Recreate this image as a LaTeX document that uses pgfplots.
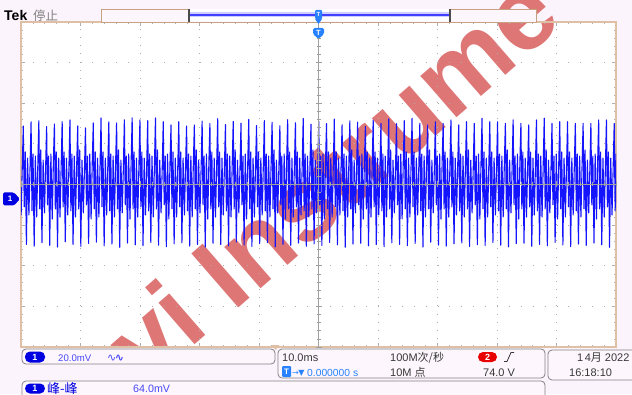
\documentclass[border=0pt]{standalone}
\usepackage{pgfplots}
\pgfplotsset{compat=1.18}
\usepackage{fontspec}
\setmainfont{Liberation Sans}
\newfontfamily\cjk{Noto Sans CJK SC}
\newfontfamily\dejavu{DejaVu Sans}
\definecolor{bgpink}{RGB}{252,244,252}
\definecolor{boxfill}{RGB}{253,247,253}
\definecolor{bordertan}{RGB}{224,192,165}
\definecolor{barbrown}{RGB}{200,160,130}
\definecolor{wm}{RGB}{222,118,118}
\definecolor{wave}{RGB}{20,20,255}
\definecolor{chblue}{RGB}{0,0,225}
\definecolor{txtblue}{RGB}{70,70,250}
\definecolor{tblue}{RGB}{40,130,255}
\definecolor{boxgray}{RGB}{130,130,130}
\definecolor{dgray}{RGB}{55,55,55}
\definecolor{gridgray}{RGB}{175,175,175}
\definecolor{winfill}{RGB}{205,205,255}
\definecolor{badgered}{RGB}{232,0,0}
\begin{document}
\begin{tikzpicture}
\useasboundingbox (0,0) rectangle (632pt,394pt);
\clip (0,0) rectangle (632pt,394pt);
\fill[bgpink] (0,0) rectangle (632pt,394pt);
\begin{scope}[x=1pt,y=-1pt,shift={(0,394pt)}]
  \fill[white] (21,22) rectangle (616,347);
  \begin{scope}
    \clip (0,0) rectangle (632,347);
    \node[rotate=41, anchor=base west, inner sep=0, text=wm, font=\fontsize{104}{104}\selectfont\bfseries] at (146,388) {vi Instrume};
  \end{scope}
\end{scope}

% graticule
\begin{axis}[at={(21pt,47pt)}, anchor=south west, scale only axis, width=595pt, height=325pt,
  xmin=-5, xmax=5, ymin=-4, ymax=4,
  xtick={-5,...,5}, ytick={-4,...,4}, xticklabel=\empty, yticklabel=\empty,
  minor x tick num=4, minor y tick num=4,
  tick align=inside, major tick length=4pt, minor tick length=2.5pt,
  tick style={gridgray, line width=0.6pt},
  xmajorgrids, ymajorgrids,
  x grid style={gridgray, line width=1pt, dash pattern=on 1pt off 7.125pt},
  y grid style={gridgray, line width=1pt, dash pattern=on 1pt off 10.9pt},
  axis line style={bordertan, line width=1.3pt}]
\end{axis}

% waveform
\begin{axis}[at={(21pt,47pt)}, anchor=south west, scale only axis, width=595pt, height=325pt,
  xmin=-0.296, xmax=76.23, ymin=-80, ymax=80, axis lines=none, ticks=none, clip=true]
\addplot[wave, line width=1.1pt, line join=round] coordinates {
(-0.45,13)(-0.28,-15)(-0.13,9)
(0,28.8)(0.12,-11)(0.25,16)(0.4,-29.5)(0.55,13)(0.72,-15)(0.87,9)
(1,30.9)(1.12,-13)(1.25,15)(1.4,-30.4)(1.55,14)(1.72,-16)(1.87,10)
(2,31.4)(2.12,-12)(2.25,17)(2.4,-28.6)(2.55,12)(2.72,-14)(2.87,8)
(3,28.5)(3.12,-10)(3.25,14)(3.4,-29.9)(3.55,15)(3.72,-17)(3.87,11)
(4,29.8)(4.12,-12)(4.25,16)(4.4,-30.8)(4.55,13)(4.72,-16)(4.87,9)
(5,30.9)(5.12,-11)(5.25,16)(5.4,-28.2)(5.55,13)(5.72,-15)(5.87,9)
(6,31.8)(6.12,-13)(6.25,15)(6.4,-29.6)(6.55,14)(6.72,-16)(6.87,10)
(7,28.8)(7.12,-12)(7.25,17)(7.4,-30.5)(7.55,12)(7.72,-14)(7.87,8)
(8,27.8)(8.12,-10)(8.25,14)(8.4,-29.0)(8.55,15)(8.72,-17)(8.87,11)
(9,30.3)(9.12,-12)(9.25,16)(9.4,-28.4)(9.55,13)(9.72,-16)(9.87,9)
(10,32.8)(10.12,-11)(10.25,16)(10.4,-30.2)(10.55,13)(10.72,-15)(10.87,9)
(11,30.9)(11.12,-13)(11.25,15)(11.4,-29.3)(11.55,14)(11.72,-16)(11.87,10)
(12,30.3)(12.12,-12)(12.25,17)(12.4,-30.9)(12.55,12)(12.72,-14)(12.87,8)
(13,31.8)(13.12,-10)(13.25,14)(13.4,-28.8)(13.55,15)(13.72,-17)(13.87,11)
(14,32.8)(14.12,-12)(14.25,16)(14.4,-29.7)(14.55,13)(14.72,-16)(14.87,9)
(15,31.8)(15.12,-11)(15.25,16)(15.4,-30.1)(15.55,13)(15.72,-15)(15.87,9)
(16,31.4)(16.12,-13)(16.25,15)(16.4,-28.5)(16.55,14)(16.72,-16)(16.87,10)
(17,32.8)(17.12,-12)(17.25,17)(17.4,-29.9)(17.55,12)(17.72,-14)(17.87,8)
(18,30.9)(18.12,-10)(18.25,14)(18.4,-30.6)(18.55,15)(18.72,-17)(18.87,11)
(19,29.3)(19.12,-12)(19.25,16)(19.4,-29.2)(19.55,13)(19.72,-16)(19.87,9)
(20,30.9)(20.12,-11)(20.25,16)(20.4,-28.7)(20.55,13)(20.72,-15)(20.87,9)
(21,28.8)(21.12,-13)(21.25,15)(21.4,-30.3)(21.55,14)(21.72,-16)(21.87,10)
(22,29.3)(22.12,-12)(22.25,17)(22.4,-29.5)(22.55,12)(22.72,-14)(22.87,8)
(23,31.2)(23.12,-10)(23.25,14)(23.4,-30.8)(23.55,15)(23.72,-17)(23.87,11)
(24,30.0)(24.12,-12)(24.25,16)(24.4,-28.9)(24.55,13)(24.72,-16)(24.87,9)
(25,32.4)(25.12,-11)(25.25,16)(25.4,-29.6)(25.55,13)(25.72,-15)(25.87,9)
(26,29.5)(26.12,-13)(26.25,15)(26.4,-30.2)(26.55,14)(26.72,-16)(26.87,10)
(27,31.0)(27.12,-12)(27.25,17)(27.4,-28.3)(27.55,12)(27.72,-14)(27.87,8)
(28,30.2)(28.12,-10)(28.25,14)(28.4,-29.8)(28.55,15)(28.72,-17)(28.87,11)
(29,32.0)(29.12,-12)(29.25,16)(29.4,-30.5)(29.55,13)(29.72,-16)(29.87,9)
(30,29.0)(30.12,-11)(30.25,16)(30.4,-29.1)(30.55,13)(30.72,-15)(30.87,9)
(31,31.5)(31.12,-13)(31.25,15)(31.4,-28.6)(31.55,14)(31.72,-16)(31.87,10)
(32,30.6)(32.12,-12)(32.25,17)(32.4,-30.7)(32.55,12)(32.72,-14)(32.87,8)
(33,28.9)(33.12,-10)(33.25,14)(33.4,-29.4)(33.55,15)(33.72,-17)(33.87,11)
(34,31.9)(34.12,-12)(34.25,16)(34.4,-29.9)(34.55,13)(34.72,-16)(34.87,9)
(35,30.4)(35.12,-11)(35.25,16)(35.4,-28.8)(35.55,13)(35.72,-15)(35.87,9)
(36,32.5)(36.12,-13)(36.25,15)(36.4,-30.4)(36.55,14)(36.72,-16)(36.87,10)
(37,29.7)(37.12,-12)(37.25,17)(37.4,-29.2)(37.55,12)(37.72,-14)(37.87,8)
(38,31.1)(38.12,-10)(38.25,14)(38.4,-30.0)(38.55,15)(38.72,-17)(38.87,11)
(39,30.0)(39.12,-12)(39.25,16)(39.4,-28.5)(39.55,13)(39.72,-16)(39.87,9)
(40,32.2)(40.12,-11)(40.25,16)(40.4,-29.7)(40.55,13)(40.72,-15)(40.87,9)
(41,29.4)(41.12,-13)(41.25,15)(41.4,-30.9)(41.55,14)(41.72,-16)(41.87,10)
(42,31.3)(42.12,-12)(42.25,17)(42.4,-29.3)(42.55,12)(42.72,-14)(42.87,8)
(43,30.7)(43.12,-10)(43.25,14)(43.4,-28.9)(43.55,15)(43.72,-17)(43.87,11)
(44,28.6)(44.12,-12)(44.25,16)(44.4,-30.2)(44.55,13)(44.72,-16)(44.87,9)
(45,31.7)(45.12,-11)(45.25,16)(45.4,-29.6)(45.55,13)(45.72,-15)(45.87,9)
(46,30.1)(46.12,-13)(46.25,15)(46.4,-30.6)(46.55,14)(46.72,-16)(46.87,10)
(47,32.3)(47.12,-12)(47.25,17)(47.4,-28.7)(47.55,12)(47.72,-14)(47.87,8)
(48,29.9)(48.12,-10)(48.25,14)(48.4,-29.5)(48.55,15)(48.72,-17)(48.87,11)
(49,31.4)(49.12,-12)(49.25,16)(49.4,-30.1)(49.55,13)(49.72,-16)(49.87,9)
(50,32.6)(50.12,-11)(50.25,16)(50.4,-29.0)(50.55,13)(50.72,-15)(50.87,9)
(51,30.1)(51.12,-13)(51.25,15)(51.4,-30.8)(51.55,14)(51.72,-16)(51.87,10)
(52,29.3)(52.12,-12)(52.25,17)(52.4,-28.4)(52.55,12)(52.72,-14)(52.87,8)
(53,30.9)(53.12,-10)(53.25,14)(53.4,-29.8)(53.55,15)(53.72,-17)(53.87,11)
(54,30.1)(54.12,-12)(54.25,16)(54.4,-30.3)(54.55,13)(54.72,-16)(54.87,9)
(55,31.8)(55.12,-11)(55.25,16)(55.4,-29.2)(55.55,13)(55.72,-15)(55.87,9)
(56,29.3)(56.12,-13)(56.25,15)(56.4,-28.8)(56.55,14)(56.72,-16)(56.87,10)
(57,30.9)(57.12,-12)(57.25,17)(57.4,-30.5)(57.55,12)(57.72,-14)(57.87,8)
(58,30.1)(58.12,-10)(58.25,14)(58.4,-29.6)(58.55,15)(58.72,-17)(58.87,11)
(59,32.6)(59.12,-12)(59.25,16)(59.4,-30.0)(59.55,13)(59.72,-16)(59.87,9)
(60,30.9)(60.12,-11)(60.25,16)(60.4,-28.6)(60.55,13)(60.72,-15)(60.87,9)
(61,30.9)(61.12,-13)(61.25,15)(61.4,-29.9)(61.55,14)(61.72,-16)(61.87,10)
(62,30.1)(62.12,-12)(62.25,17)(62.4,-30.7)(62.55,12)(62.72,-14)(62.87,8)
(63,31.8)(63.12,-10)(63.25,14)(63.4,-29.1)(63.55,15)(63.72,-17)(63.87,11)
(64,30.1)(64.12,-12)(64.25,16)(64.4,-28.9)(64.55,13)(64.72,-16)(64.87,9)
(65,29.3)(65.12,-11)(65.25,16)(65.4,-30.4)(65.55,13)(65.72,-15)(65.87,9)
(66,31.8)(66.12,-13)(66.25,15)(66.4,-29.5)(66.55,14)(66.72,-16)(66.87,10)
(67,32.6)(67.12,-12)(67.25,17)(67.4,-30.2)(67.55,12)(67.72,-14)(67.87,8)
(68,30.1)(68.12,-10)(68.25,14)(68.4,-28.5)(68.55,15)(68.72,-17)(68.87,11)
(69,30.9)(69.12,-12)(69.25,16)(69.4,-29.8)(69.55,13)(69.72,-16)(69.87,9)
(70,30.9)(70.12,-11)(70.25,16)(70.4,-30.6)(70.55,13)(70.72,-15)(70.87,9)
(71,30.1)(71.12,-13)(71.25,15)(71.4,-29.3)(71.55,14)(71.72,-16)(71.87,10)
(72,30.1)(72.12,-12)(72.25,17)(72.4,-30.0)(72.55,12)(72.72,-14)(72.87,8)
(73,30.1)(73.12,-10)(73.25,14)(73.4,-28.8)(73.55,15)(73.72,-17)(73.87,11)
(74,31.8)(74.12,-12)(74.25,16)(74.4,-29.7)(74.55,13)(74.72,-16)(74.87,9)
(75,31.8)(75.12,-11)(75.25,16)(75.4,-30.9)(75.55,13)(75.72,-15)(75.87,9)
(76,30.1)(76.12,-13)(76.25,15)(76.4,-29.4)(76.55,14)
};
\end{axis}

% center crosshair
\begin{axis}[at={(21pt,47pt)}, anchor=south west, scale only axis, width=595pt, height=325pt,
  xmin=-5, xmax=5, ymin=-4, ymax=4, axis lines=center,
  axis line style={-, gray!75, line width=0.6pt},
  xtick={-5,...,5}, ytick={-4,...,4}, xticklabel=\empty, yticklabel=\empty,
  minor x tick num=4, minor y tick num=4,
  tick align=center, major tick length=6pt, minor tick length=4pt,
  tick style={gray!75, line width=0.6pt}]
\end{axis}

\begin{scope}[x=1pt,y=-1pt,shift={(0,394pt)}]
  % Tek title
  \node[anchor=base west, inner sep=0, font=\fontsize{14}{14}\selectfont\bfseries] at (4,20.5) {Tek};
  \node[anchor=base west, inner sep=0, text=gray, font=\fontsize{12.5}{12.5}\selectfont\cjk] at (33,20.5) {停止};
  % record bar
  \draw[barbrown, fill=boxfill, line width=0.8pt] (101,9) rectangle (536,22);
  \fill[white] (189,9.5) rectangle (450,21.5);
  \fill[winfill] (189,12.5) rectangle (450,17.5);
  \draw[blue!75, line width=1.3pt] (189,15) -- (450,15);
  \draw[black!70, line width=1.2pt] (189,9) -- (189,22);
  \draw[black!70, line width=1.2pt] (450,9) -- (450,22);
  % trigger markers
  \fill[tblue, rounded corners=1pt] (315,10) rectangle (322,19);
  \fill[tblue] (315,19) -- (322,19) -- (318.5,24) -- cycle;
  \node[text=white, font=\fontsize{6}{6}\selectfont\bfseries, inner sep=0] at (318.5,14.5) {T};
  \fill[tblue, rounded corners=1.5pt] (313,28) -- (324,28) -- (324,34) -- (318.5,39) -- (313,34) -- cycle;
  \node[text=white, font=\fontsize{7.5}{7.5}\selectfont\bfseries, inner sep=0] at (318.5,32.5) {T};
  % channel 1 ground marker
  \fill[chblue, rounded corners=1.5pt] (3,192.5) -- (14,192.5) -- (20,199) -- (14,205.5) -- (3,205.5) -- cycle;
  \node[text=white, font=\fontsize{8}{8}\selectfont\bfseries, inner sep=0] at (10,199) {1};
  % horizontal position marker
  \fill[bordertan] (271.5,345) -- (279.5,345) -- (275.5,350) -- cycle;
  % channel box
  \draw[boxgray, fill=boxfill, rounded corners=4pt, line width=0.8pt] (22,349) rectangle (275,364);
  \fill[chblue, rounded corners=5pt] (25,351.5) rectangle (45,362.5);
  \node[text=white, font=\fontsize{9}{9}\selectfont\bfseries, inner sep=0] at (35,357) {1};
  \node[anchor=base west, inner sep=0, text=txtblue, font=\fontsize{9.6}{9.6}\selectfont] at (58,361) {20.0mV};
  \node[anchor=base west, inner sep=0, text=txtblue, font=\fontsize{11}{11}\selectfont\dejavu] at (107,361) {∿\kern-1.5pt\textbf{∿}};
  % timebase box
  \draw[boxgray, fill=boxfill, rounded corners=4pt, line width=0.8pt] (278,349) rectangle (545,378);
  \node[anchor=base west, inner sep=0, text=dgray, font=\fontsize{11}{11}\selectfont] at (282,361) {10.0ms};
  \node[anchor=base west, inner sep=0, text=dgray, font=\fontsize{11}{11}\selectfont] at (390,361) {100M{\cjk 次/秒}};
  \fill[badgered, rounded corners=5pt] (478,352) rectangle (497,362);
  \node[text=white, font=\fontsize{9}{9}\selectfont\bfseries, inner sep=0] at (487.5,357) {2};
  \draw[dgray, line width=0.8pt] (504,361.5) -- (507,361.5) -- (511,352.5) -- (514,352.5);
  \fill[tblue, rounded corners=1pt] (282,366) rectangle (291,377);
  \node[text=white, font=\fontsize{8}{8}\selectfont\bfseries, inner sep=0] at (286.5,371.5) {T};
  \node[anchor=base west, inner sep=0, text=tblue, font=\fontsize{8}{8}\selectfont\dejavu] at (292,375.5) {→\kern-0.5pt▼};
  \node[anchor=base west, inner sep=0, text=tblue, font=\fontsize{10.3}{10.3}\selectfont] at (307,376) {0.000000 s};
  \node[anchor=base west, inner sep=0, text=dgray, font=\fontsize{11}{11}\selectfont] at (390,376) {10M {\cjk 点}};
  \node[anchor=base west, inner sep=0, text=dgray, font=\fontsize{11}{11}\selectfont] at (483,376) {74.0 V};
  % date box
  \draw[boxgray, fill=boxfill, rounded corners=4pt, line width=0.8pt] (548,350) rectangle (645,380);
  \node[anchor=base west, inner sep=0, text=dgray, font=\fontsize{11}{11}\selectfont] at (577,361) {1\kern1.5pt 4{\cjk 月} 2022};
  \node[anchor=base west, inner sep=0, text=dgray, font=\fontsize{11}{11}\selectfont] at (569,376) {16:18:10};
  % measurement box
  \draw[boxgray, fill=boxfill, rounded corners=4pt, line width=0.8pt] (22,381) rectangle (545,402);
  \fill[chblue, rounded corners=5pt] (25,383.5) rectangle (45,393.5);
  \node[text=white, font=\fontsize{9}{9}\selectfont\bfseries, inner sep=0] at (35,388.5) {1};
  \node[anchor=base west, inner sep=0, text=chblue, font=\fontsize{13}{13}\selectfont\cjk] at (47,393) {峰-峰};
  \node[anchor=base west, inner sep=0, text=txtblue, font=\fontsize{10.7}{10.7}\selectfont] at (133,392.5) {64.0mV};
\end{scope}
\end{tikzpicture}
\end{document}
